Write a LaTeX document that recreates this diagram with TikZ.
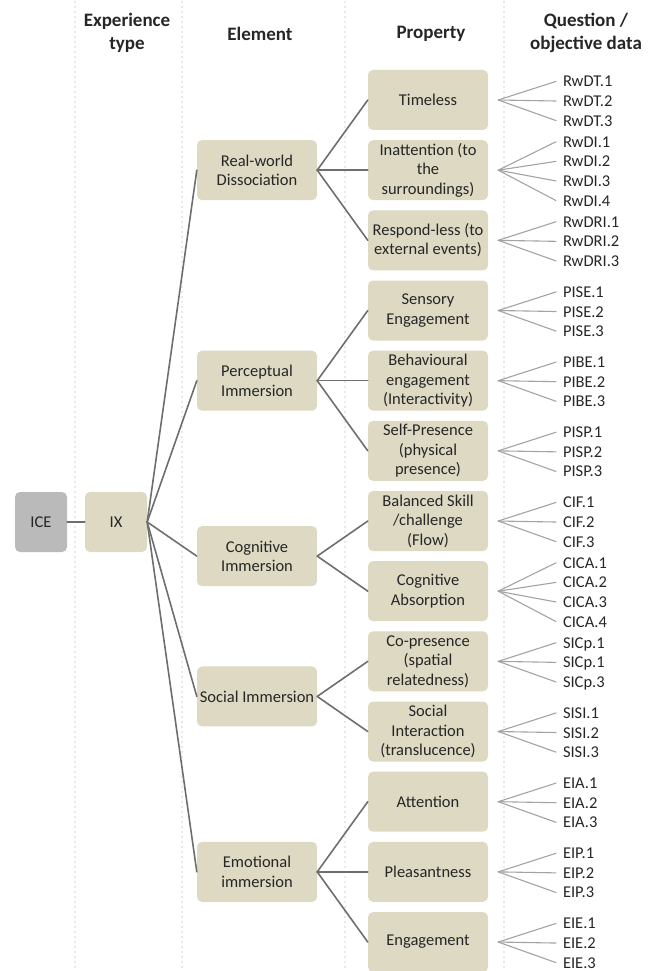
\documentclass[tikz,border=0pt]{standalone}
\usepackage{fontspec}
\setmainfont{Carlito}
\definecolor{tanbox}{HTML}{DDD9C3}
\definecolor{greybox}{HTML}{BABABA}
\definecolor{txt}{HTML}{262626}
\definecolor{linkdark}{HTML}{6E6E6E}
\definecolor{linklight}{HTML}{A3A3A3}
\definecolor{sepgray}{HTML}{9A9A9A}
\begin{document}
\begin{tikzpicture}[x=1pt, y=-1pt, line join=round, line cap=round,
	box/.style={rounded corners=5pt, fill=tanbox, text=txt, align=center, inner sep=0pt,
		minimum width=120pt, minimum height=60pt, font=\fontsize{16.5}{19.5}\selectfont},
	leaf/.style={anchor=west, inner sep=0pt, outer xsep=7pt, text height=11pt, text depth=0pt,
		text=txt, font=\fontsize{16.5}{19.5}\selectfont},
	head/.style={align=center, text=txt, font=\bfseries\fontsize{19}{23}\selectfont},
	link/.style={draw=linkdark, line width=1.6pt},
	twig/.style={draw=linklight, line width=1.1pt},
	sep/.style={draw=sepgray, line width=1.4pt, dash pattern=on 0pt off 5pt}]
	\useasboundingbox (0,0) rectangle (652,971);
	\def\py{100} \def\dy{70.17} % first property row, row step
	% column separators
	\foreach \x in {75,182,345,504}
	\draw[sep] (\x,2) -- (\x,971);
	% headers
	\node[head] (hexp) at (127,33) {Experience\\type};
	\node[head] (hel) at (260,34) {Element};
	\node[head] (hpr) at (431,34) {Property};
	\node[head] (hq) at (586,33) {Question /\\objective data};
	% root
	\node[box, fill=greybox, minimum width=52pt] (ice) at (41,522) {ICE};
	\node[box, minimum width=62pt] (ix) at (116,522) {IX};
	\draw[link] (ice.east) -- (ix.west);
	% elements
	\foreach \i/\e/\t in {1/rw/{Real-world\\Dissociation}, 4/pi/{Perceptual\\Immersion},
		6.5/ci/{Cognitive\\Immersion}, 8.5/si/{Social Immersion}, 11/ei/{Emotional\\immersion}}
	{\node[box] (\e) at (257,{\py+\dy*\i}) {\t};
	\draw[link] (ix.east) -- (\e.west);}
	% properties
	\foreach \i/\q/\t in {0/tl/Timeless, 1/ia/{Inattention (to\\the\\surroundings)},
		2/rl/{Respond-less (to\\external events)}, 3/se/{Sensory\\Engagement},
		4/be/{Behavioural\\engagement\\(Interactivity)}, 5/sp/{Self-Presence\\(physical\\presence)},
		6/fl/{Balanced Skill\\/challenge\\(Flow)}, 7/ca/{Cognitive\\Absorption},
		8/cp/{Co-presence\\(spatial\\relatedness)}, 9/sn/{Social\\Interaction\\(translucence)},
		10/at/Attention, 11/pl/Pleasantness, 12/en/Engagement}
	\node[box] (\q) at (428,{\py+\dy*\i}) {\t};
	\foreach \e/\q in {rw/tl,rw/ia,rw/rl,pi/se,pi/be,pi/sp,ci/fl,ci/ca,
		si/cp,si/sn,ei/at,ei/pl,ei/en}
	\draw[link] (\e.east) -- (\q.west);
	% question / objective data
	\foreach \i/\q/\n/\labs in {0/tl/3/{RwDT.1,RwDT.2,RwDT.3}, 1/ia/4/{RwDI.1,RwDI.2,RwDI.3,RwDI.4},
		2/rl/3/{RwDRI.1,RwDRI.2,RwDRI.3}, 3/se/3/{PISE.1,PISE.2,PISE.3},
		4/be/3/{PIBE.1,PIBE.2,PIBE.3}, 5/sp/3/{PISP.1,PISP.2,PISP.3},
		6/fl/3/{CIF.1,CIF.2,CIF.3}, 7/ca/4/{CICA.1,CICA.2,CICA.3,CICA.4},
		8/cp/3/{SICp.1,SICp.1,SICp.3}, 9/sn/3/{SISI.1,SISI.2,SISI.3},
		10/at/3/{EIA.1,EIA.2,EIA.3}, 11/pl/3/{EIP.1,EIP.2,EIP.3}, 12/en/3/{EIE.1,EIE.2,EIE.3}}
	{\coordinate (\q-f) at ([xshift=10pt]\q.east);
	\foreach \lab [count=\k] in \labs
	{\node[leaf] (\q-\k) at (556,{\py+\dy*\i+1+19.6*(\k-(\n+1)/2)}) {\lab};
	\draw[twig] (\q-f) -- (\q-\k.west);}}
\end{tikzpicture}
\end{document}
